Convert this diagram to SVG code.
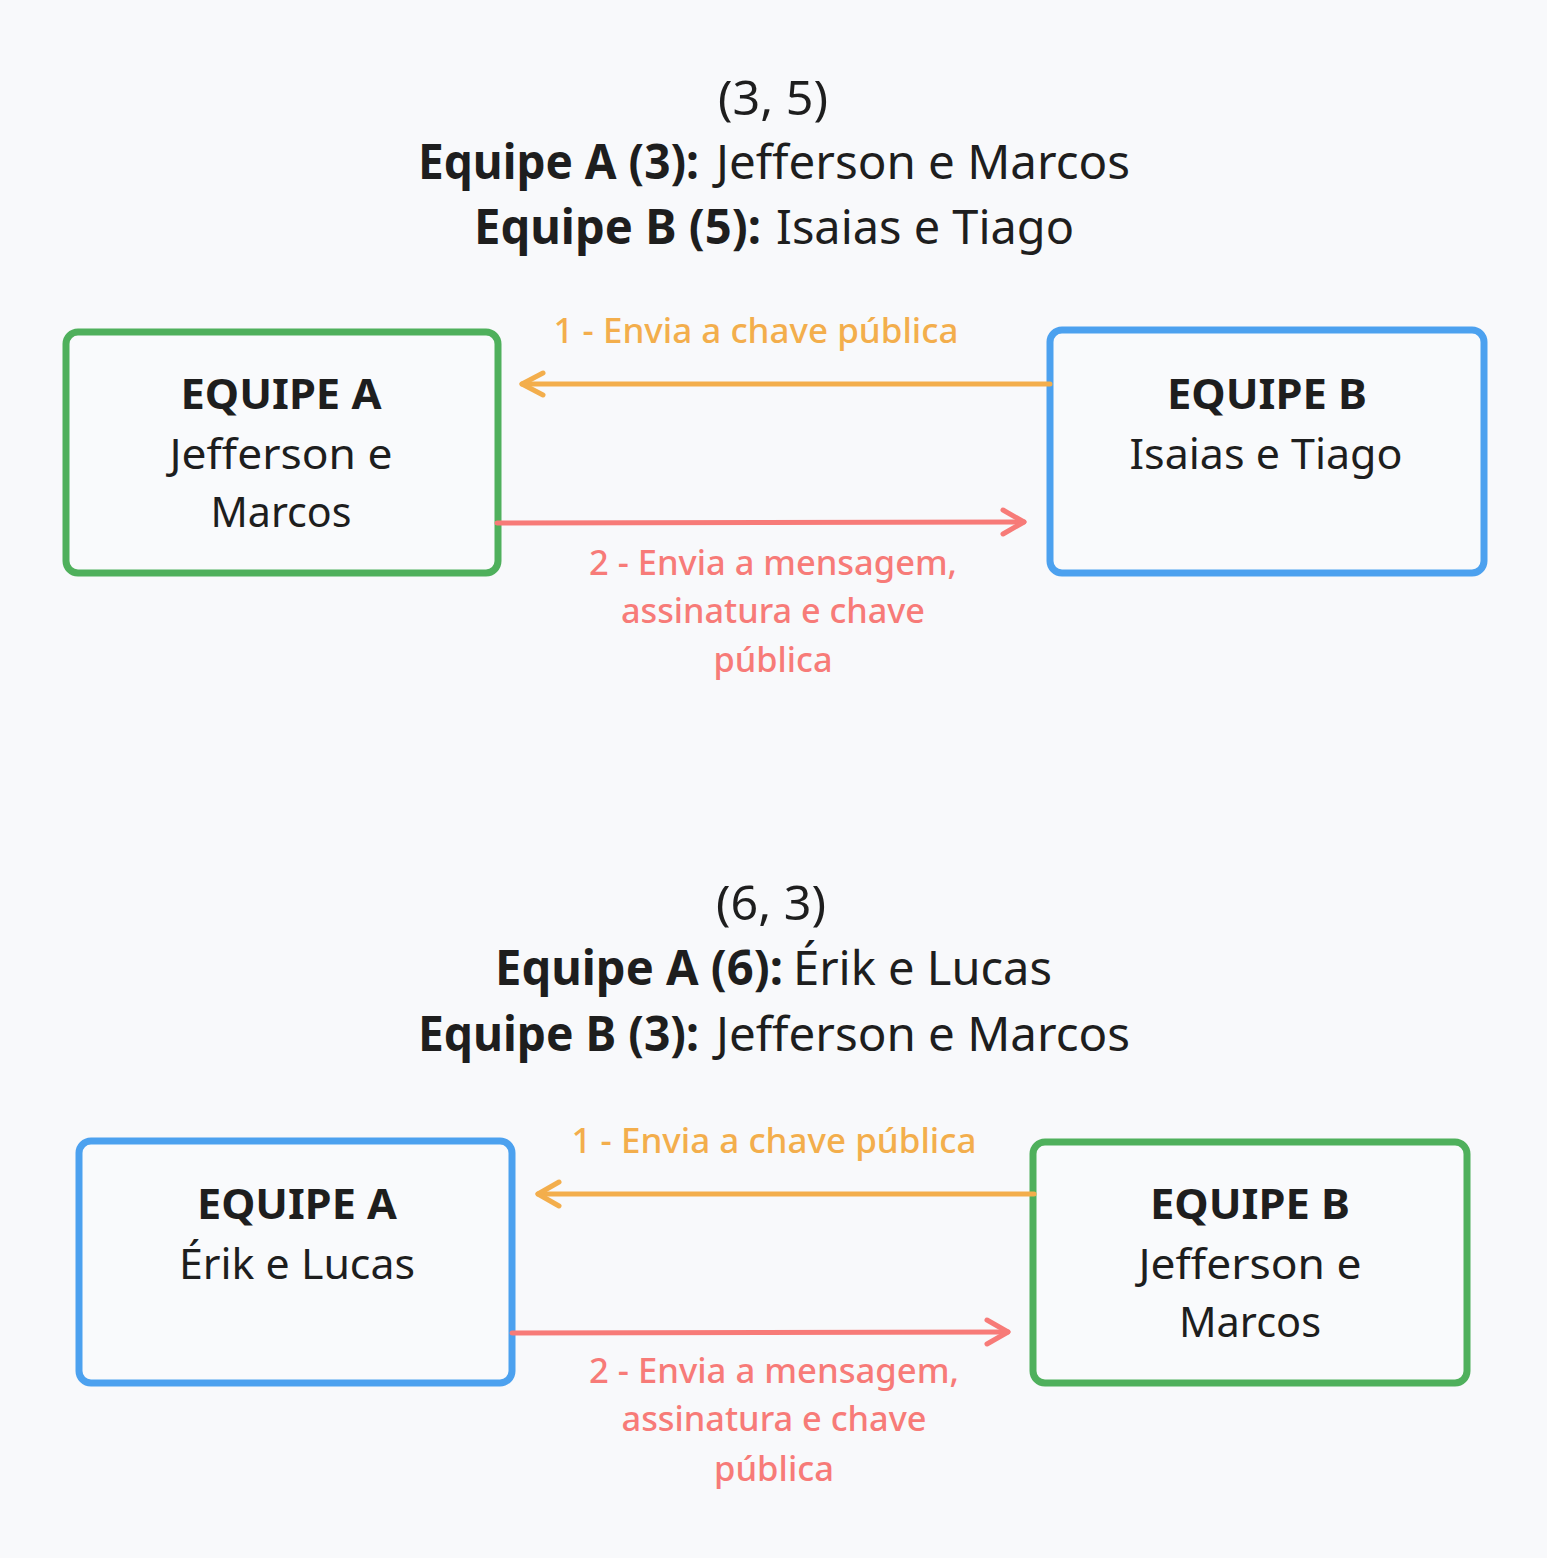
<svg xmlns="http://www.w3.org/2000/svg" width="1547" height="1558" viewBox="0 0 1547 1558">
<style>
  text { font-family: "Noto Sans", "Open Sans", sans-serif; fill: #1e1e1e; }
  .title { font-size: 48px; }
  .b { font-weight: 700; }
  .box { fill: #f9fafc; stroke-width: 7; }
  .green { stroke: #4fb05c; }
  .blue { stroke: #4ca1ef; }
  .node-t { font-size: 42px; text-anchor: middle; }
  .lbl { font-size: 34px; text-anchor: middle; font-weight: 500; }
  .orange { stroke: #f3ae4c; }
  .red { stroke: #f77b78; }
  .conn { fill: none; stroke-width: 5; stroke-linecap: round; stroke-linejoin: round; }
  .lo { fill: #f3ae4c; }
  .lr { fill: #f77b78; }
</style>
<rect x="0" y="0" width="1547" height="1558" fill="#f8f9fb"/>

<g id="title-top">
  <text class="title" x="718" y="115" textLength="110" lengthAdjust="spacingAndGlyphs">(3, 5)</text>
  <text class="title b" x="418" y="179" textLength="281" lengthAdjust="spacingAndGlyphs">Equipe A (3):</text>
  <text class="title" x="716" y="179" textLength="414" lengthAdjust="spacingAndGlyphs">Jefferson e Marcos</text>
  <text class="title b" x="474" y="244" textLength="287" lengthAdjust="spacingAndGlyphs">Equipe B (5):</text>
  <text class="title" x="776" y="244" textLength="298" lengthAdjust="spacingAndGlyphs">Isaias e Tiago</text>
</g>

<g id="node-top-a">
  <rect class="box green" x="66" y="332" width="432" height="241" rx="12"/>
  <text class="node-t b" x="281" y="409" textLength="201" lengthAdjust="spacingAndGlyphs">EQUIPE A</text>
  <text class="node-t" x="281" y="469" textLength="223" lengthAdjust="spacingAndGlyphs">Jefferson e</text>
  <text class="node-t" x="281" y="527" textLength="141" lengthAdjust="spacingAndGlyphs">Marcos</text>
</g>

<g id="node-top-b">
  <rect class="box blue" x="1050" y="330" width="434" height="243" rx="12"/>
  <text class="node-t b" x="1267" y="409" textLength="200" lengthAdjust="spacingAndGlyphs">EQUIPE B</text>
  <text class="node-t" x="1266" y="469" textLength="273" lengthAdjust="spacingAndGlyphs">Isaias e Tiago</text>
</g>

<g id="title-bottom">
  <text class="title" x="716" y="920" textLength="110" lengthAdjust="spacingAndGlyphs">(6, 3)</text>
  <text class="title b" x="495" y="985" textLength="288" lengthAdjust="spacingAndGlyphs">Equipe A (6):</text>
  <text class="title" x="793" y="985" textLength="259" lengthAdjust="spacingAndGlyphs">Érik e Lucas</text>
  <text class="title b" x="418" y="1051" textLength="281" lengthAdjust="spacingAndGlyphs">Equipe B (3):</text>
  <text class="title" x="716" y="1051" textLength="414" lengthAdjust="spacingAndGlyphs">Jefferson e Marcos</text>
</g>

<g id="node-bottom-a">
  <rect class="box blue" x="79" y="1141" width="433" height="242" rx="12"/>
  <text class="node-t b" x="297" y="1219" textLength="200" lengthAdjust="spacingAndGlyphs">EQUIPE A</text>
  <text class="node-t" x="297" y="1279" textLength="236" lengthAdjust="spacingAndGlyphs">Érik e Lucas</text>
</g>

<g id="node-bottom-b">
  <rect class="box green" x="1033" y="1142" width="434" height="241" rx="12"/>
  <text class="node-t b" x="1250" y="1219" textLength="200" lengthAdjust="spacingAndGlyphs">EQUIPE B</text>
  <text class="node-t" x="1250" y="1279" textLength="223" lengthAdjust="spacingAndGlyphs">Jefferson e</text>
  <text class="node-t" x="1250" y="1337" textLength="142" lengthAdjust="spacingAndGlyphs">Marcos</text>
</g>

<g id="connectors">
  <path class="conn orange" d="M1050 384 L522 384"/>
  <path class="conn orange" d="M543 373 L522 384 L543 395"/>
  <text class="lbl lo" x="756" y="343" textLength="405" lengthAdjust="spacingAndGlyphs">1 - Envia a chave pública</text>

  <path class="conn red" d="M497 523 L1024 522"/>
  <path class="conn red" d="M1003 510 L1024 522 L1003 534"/>
  <text class="lbl lr" x="773" y="575" textLength="368" lengthAdjust="spacingAndGlyphs">2 - Envia a mensagem,</text>
  <text class="lbl lr" x="773" y="623" textLength="304" lengthAdjust="spacingAndGlyphs">assinatura e chave</text>
  <text class="lbl lr" x="773" y="672" textLength="119" lengthAdjust="spacingAndGlyphs">pública</text>

  <path class="conn orange" d="M1034 1194 L538 1194"/>
  <path class="conn orange" d="M559 1182 L538 1194 L559 1206"/>
  <text class="lbl lo" x="774" y="1153" textLength="405" lengthAdjust="spacingAndGlyphs">1 - Envia a chave pública</text>

  <path class="conn red" d="M512 1333 L1008 1332"/>
  <path class="conn red" d="M987 1320 L1008 1332 L987 1344"/>
  <text class="lbl lr" x="774" y="1383" textLength="370" lengthAdjust="spacingAndGlyphs">2 - Envia a mensagem,</text>
  <text class="lbl lr" x="774" y="1431" textLength="305" lengthAdjust="spacingAndGlyphs">assinatura e chave</text>
  <text class="lbl lr" x="774" y="1481" textLength="120" lengthAdjust="spacingAndGlyphs">pública</text>
</g>
</svg>
